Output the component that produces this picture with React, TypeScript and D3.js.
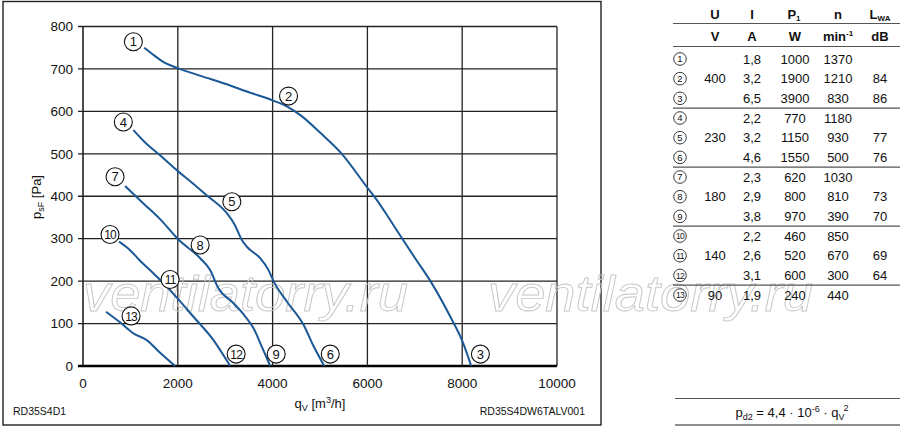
import { useRef, useEffect } from "react";
import { select, scaleLinear, line, curveMonotoneX } from "d3";

// fan characteristic curves, [qV m³/h, psF Pa]
const curve400: [number, number][] = [
  [1290, 750], [1500, 732], [1700, 716], [2000, 702], [2500, 683],
  [3000, 665], [3500, 645], [4000, 626], [4300, 612], [4600, 590],
  [5000, 550], [5460, 500], [6000, 420], [6200, 391], [6480, 344],
  [6730, 301], [7000, 255], [7330, 200], [7750, 116], [8010, 57], [8190, 0],
];
const curve230: [number, number][] = [
  [1063, 556], [1300, 528], [1620, 497], [2013, 458], [2300, 432],
  [2613, 402], [3035, 360], [3200, 333], [3351, 297], [3457, 281],
  [3738, 254], [3914, 226], [4019, 200], [4300, 152], [4653, 97],
  [4850, 50], [5090, 0],
];
const curve180: [number, number][] = [
  [887, 424], [1274, 383], [1626, 346], [2013, 298], [2471, 254],
  [2682, 226], [2858, 183], [3175, 148], [3400, 120], [3598, 89],
  [3774, 45], [3950, 0],
];
const curve140: [number, number][] = [
  [760, 293], [993, 273], [1204, 248], [1451, 222], [1661, 199],
  [2013, 157], [2330, 116], [2752, 61], [3105, 0],
];
const curve90: [number, number][] = [
  [486, 128], [781, 103], [1063, 77], [1345, 61], [1626, 31], [1943, 0],
];
const curves = [curve400, curve230, curve180, curve140, curve90];

// operating point markers [number, qV, psF]
const pointLabels: [number, number, number][] = [
  [1, 1063, 764], [2, 4336, 636], [3, 8384, 28],
  [4, 851, 575], [5, 3140, 387], [6, 5216, 28],
  [7, 676, 446], [8, 2471, 285], [9, 4076, 28],
  [10, 570, 310], [11, 1837, 204], [12, 3231, 28],
  [13, 1014, 118],
];

const xTicks = [0, 2000, 4000, 6000, 8000, 10000];
const yTicks = [0, 100, 200, 300, 400, 500, 600, 700, 800];

// table columns
const rowNums = [1, 2, 3, 4, 5, 6, 7, 8, 9, 10, 11, 12, 13];
const colU = ["", "400", "", "", "230", "", "", "180", "", "", "140", "", "90"];
const colI = ["1,8", "3,2", "6,5", "2,2", "3,2", "4,6", "2,3", "2,9", "3,8", "2,2", "2,6", "3,1", "1,9"];
const colP = ["1000", "1900", "3900", "770", "1150", "1550", "620", "800", "970", "460", "520", "600", "240"];
const colN = ["1370", "1210", "830", "1180", "930", "500", "1030", "810", "390", "850", "670", "300", "440"];
const colL = ["", "84", "86", "", "77", "76", "", "73", "70", "", "69", "64", ""];
const groupEnds = [3, 6, 9, 12];

const FONT = "'Liberation Sans', Arial, Helvetica, sans-serif";
const BLUE = "#1b5896";

const App = () => {
  const ref = useRef<SVGSVGElement>(null);

  useEffect(() => {
    if (!ref.current) return;
    const svg = select(ref.current);
    svg.selectAll("*").remove();
    svg.attr("font-family", FONT);

    const x = scaleLinear().domain([0, 10000]).range([83, 557]);
    const y = scaleLinear().domain([0, 800]).range([366, 26.5]);

    // outer frame of chart
    svg.append("rect")
      .attr("x", 3).attr("y", 1.5).attr("width", 598).attr("height", 423.5)
      .attr("fill", "none").attr("stroke", "#222").attr("stroke-width", 1.4);

    // grid
    const grid = svg.append("g");
    grid.selectAll("line.h").data(yTicks).enter().append("line")
      .attr("x1", 78).attr("x2", x(10000))
      .attr("y1", (d) => y(d)).attr("y2", (d) => y(d))
      .attr("stroke", (d) => (d === 0 ? "#000" : "#222"))
      .attr("stroke-width", (d) => (d === 0 ? 2.4 : 1.3));
    grid.selectAll("line.v").data(xTicks).enter().append("line")
      .attr("y1", y(800)).attr("y2", y(0))
      .attr("x1", (d) => x(d)).attr("x2", (d) => x(d))
      .attr("stroke", "#222")
      .attr("stroke-width", (d) => (d === 0 ? 1.6 : 1.3));

    // tick labels
    svg.selectAll("text.yt").data(yTicks).enter().append("text")
      .attr("x", 73).attr("y", (d) => y(d) + 4.8)
      .attr("text-anchor", "end").attr("font-size", 13.5).attr("fill", "#111")
      .text((d) => d);
    svg.selectAll("text.xt").data(xTicks).enter().append("text")
      .attr("x", (d) => x(d)).attr("y", 388)
      .attr("text-anchor", "middle").attr("font-size", 13.5).attr("fill", "#111")
      .text((d) => d);

    // axis titles
    const xt = svg.append("text").attr("x", 320).attr("y", 408)
      .attr("text-anchor", "middle").attr("font-size", 13).attr("fill", "#111");
    xt.append("tspan").text("q");
    xt.append("tspan").attr("font-size", 9).attr("dy", 3).text("V");
    xt.append("tspan").attr("dy", -3).text(" [m");
    xt.append("tspan").attr("font-size", 9).attr("dy", -5).text("3");
    xt.append("tspan").attr("dy", 5).text("/h]");

    const yt = svg.append("text")
      .attr("transform", "translate(41,197) rotate(-90)")
      .attr("text-anchor", "middle").attr("font-size", 13).attr("fill", "#111");
    yt.append("tspan").text("p");
    yt.append("tspan").attr("font-size", 9).attr("dy", 3).text("sF");
    yt.append("tspan").attr("dy", -3).text(" [Pa]");

    // watermark
    [83, 488].forEach((wx) => {
      svg.append("text")
        .attr("x", wx).attr("y", 311)
        .attr("font-size", 50).attr("font-style", "italic")
        .attr("textLength", 325).attr("lengthAdjust", "spacingAndGlyphs")
        .attr("fill", "none").attr("stroke", "#c6c6c6").attr("stroke-width", 0.9)
        .text("ventilatorry.ru");
    });

    // curves
    const lineGen = line<[number, number]>()
      .x((d) => x(d[0])).y((d) => y(d[1]))
      .curve(curveMonotoneX);
    svg.selectAll("path.curve").data(curves).enter().append("path")
      .attr("d", (d) => lineGen(d))
      .attr("fill", "none").attr("stroke", BLUE).attr("stroke-width", 2);

    // operating point markers
    const mk = svg.selectAll("g.mk").data(pointLabels).enter().append("g")
      .attr("transform", (d) => `translate(${x(d[1])},${y(d[2])})`);
    mk.append("circle").attr("r", 9)
      .attr("fill", "#fff").attr("stroke", "#111").attr("stroke-width", 1.1);
    mk.append("text").attr("y", 4.6).attr("text-anchor", "middle")
      .attr("font-size", (d) => (d[0] > 9 ? 12 : 13)).attr("fill", "#111")
      .attr("letter-spacing", (d) => (d[0] > 9 ? -0.8 : 0))
      .text((d) => d[0]);

    // footer codes
    svg.append("text").attr("x", 13).attr("y", 415)
      .attr("font-size", 10.5).attr("fill", "#111").text("RD35S4D1");
    svg.append("text").attr("x", 585).attr("y", 415)
      .attr("text-anchor", "end").attr("font-size", 10.5).attr("fill", "#111")
      .text("RD35S4DW6TALV001");

    // table
    const tb = svg.append("g").attr("fill", "#111");
    const colX = { num: 680, u: 715, i: 752, p: 795, n: 838, l: 880 };
    const rowY = (i: number) => 59 + i * 19.67;

    const h1 = tb.append("g").attr("font-weight", "bold").attr("font-size", 13)
      .attr("text-anchor", "middle");
    h1.append("text").attr("x", colX.u).attr("y", 18.5).text("U");
    h1.append("text").attr("x", colX.i).attr("y", 18.5).text("I");
    const hp = h1.append("text").attr("x", colX.p - 1).attr("y", 18.5);
    hp.append("tspan").text("P");
    hp.append("tspan").attr("font-size", 8).attr("dy", 2).text("1");
    h1.append("text").attr("x", colX.n).attr("y", 18.5).text("n");
    const hl = h1.append("text").attr("x", colX.l).attr("y", 18.5);
    hl.append("tspan").text("L");
    hl.append("tspan").attr("font-size", 8).attr("dy", 2).text("WA");

    h1.append("text").attr("x", colX.u).attr("y", 41).text("V");
    h1.append("text").attr("x", colX.i).attr("y", 41).text("A");
    h1.append("text").attr("x", colX.p).attr("y", 41).text("W");
    const hm = h1.append("text").attr("x", colX.n).attr("y", 41);
    hm.append("tspan").text("min");
    hm.append("tspan").attr("font-size", 8).attr("dy", -5).text("-1");
    h1.append("text").attr("x", colX.l).attr("y", 41).text("dB");

    const hline = (yy: number) =>
      tb.append("line").attr("x1", 673).attr("x2", 900)
        .attr("y1", yy).attr("y2", yy)
        .attr("stroke", "#555").attr("stroke-width", 1.2);
    hline(23.5);
    hline(46.5);
    groupEnds.forEach((g) => hline((rowY(g - 1) + rowY(g)) / 2));

    const rows = tb.selectAll("g.row").data(rowNums).enter().append("g")
      .attr("transform", (_d, i) => `translate(0,${rowY(i)})`)
      .attr("font-size", 13).attr("text-anchor", "middle");
    rows.append("circle").attr("cx", colX.num).attr("r", 6.3)
      .attr("fill", "#fff").attr("stroke", "#222").attr("stroke-width", 0.9);
    rows.append("text").attr("x", colX.num).attr("y", 3.3)
      .attr("font-size", (d) => (d > 9 ? 8.5 : 9.5))
      .attr("letter-spacing", (d) => (d > 9 ? -0.7 : 0))
      .text((d) => d);
    rows.append("text").attr("x", colX.u).attr("y", 4.6).text((_d, i) => colU[i]);
    rows.append("text").attr("x", colX.i).attr("y", 4.6).text((_d, i) => colI[i]);
    rows.append("text").attr("x", colX.p).attr("y", 4.6).text((_d, i) => colP[i]);
    rows.append("text").attr("x", colX.n).attr("y", 4.6).text((_d, i) => colN[i]);
    rows.append("text").attr("x", colX.l).attr("y", 4.6).text((_d, i) => colL[i]);

    // dynamic pressure box
    tb.append("line").attr("x1", 675).attr("x2", 900).attr("y1", 398.5).attr("y2", 398.5)
      .attr("stroke", "#555").attr("stroke-width", 1.2);
    tb.append("line").attr("x1", 675).attr("x2", 900).attr("y1", 425).attr("y2", 425)
      .attr("stroke", "#222").attr("stroke-width", 1.2);
    const f = tb.append("text").attr("x", 792).attr("y", 417)
      .attr("text-anchor", "middle").attr("font-size", 13);
    f.append("tspan").text("p");
    f.append("tspan").attr("font-size", 9).attr("dy", 3).text("d2");
    f.append("tspan").attr("dy", -3).text(" = 4,4 · 10");
    f.append("tspan").attr("font-size", 9).attr("dy", -5).text("-6");
    f.append("tspan").attr("dy", 5).text(" · q");
    f.append("tspan").attr("font-size", 9).attr("dy", 3).text("V");
    f.append("tspan").attr("font-size", 9).attr("dy", -9).attr("dx", -1).text("2");

    return () => {
      svg.selectAll("*").remove();
    };
  }, []);

  return (
    <svg
      ref={ref}
      width={900}
      height={429}
      viewBox="0 0 900 429"
      style={{ position: "absolute", left: 0, top: 0, background: "#fff" }}
    />
  );
};

export default App;
